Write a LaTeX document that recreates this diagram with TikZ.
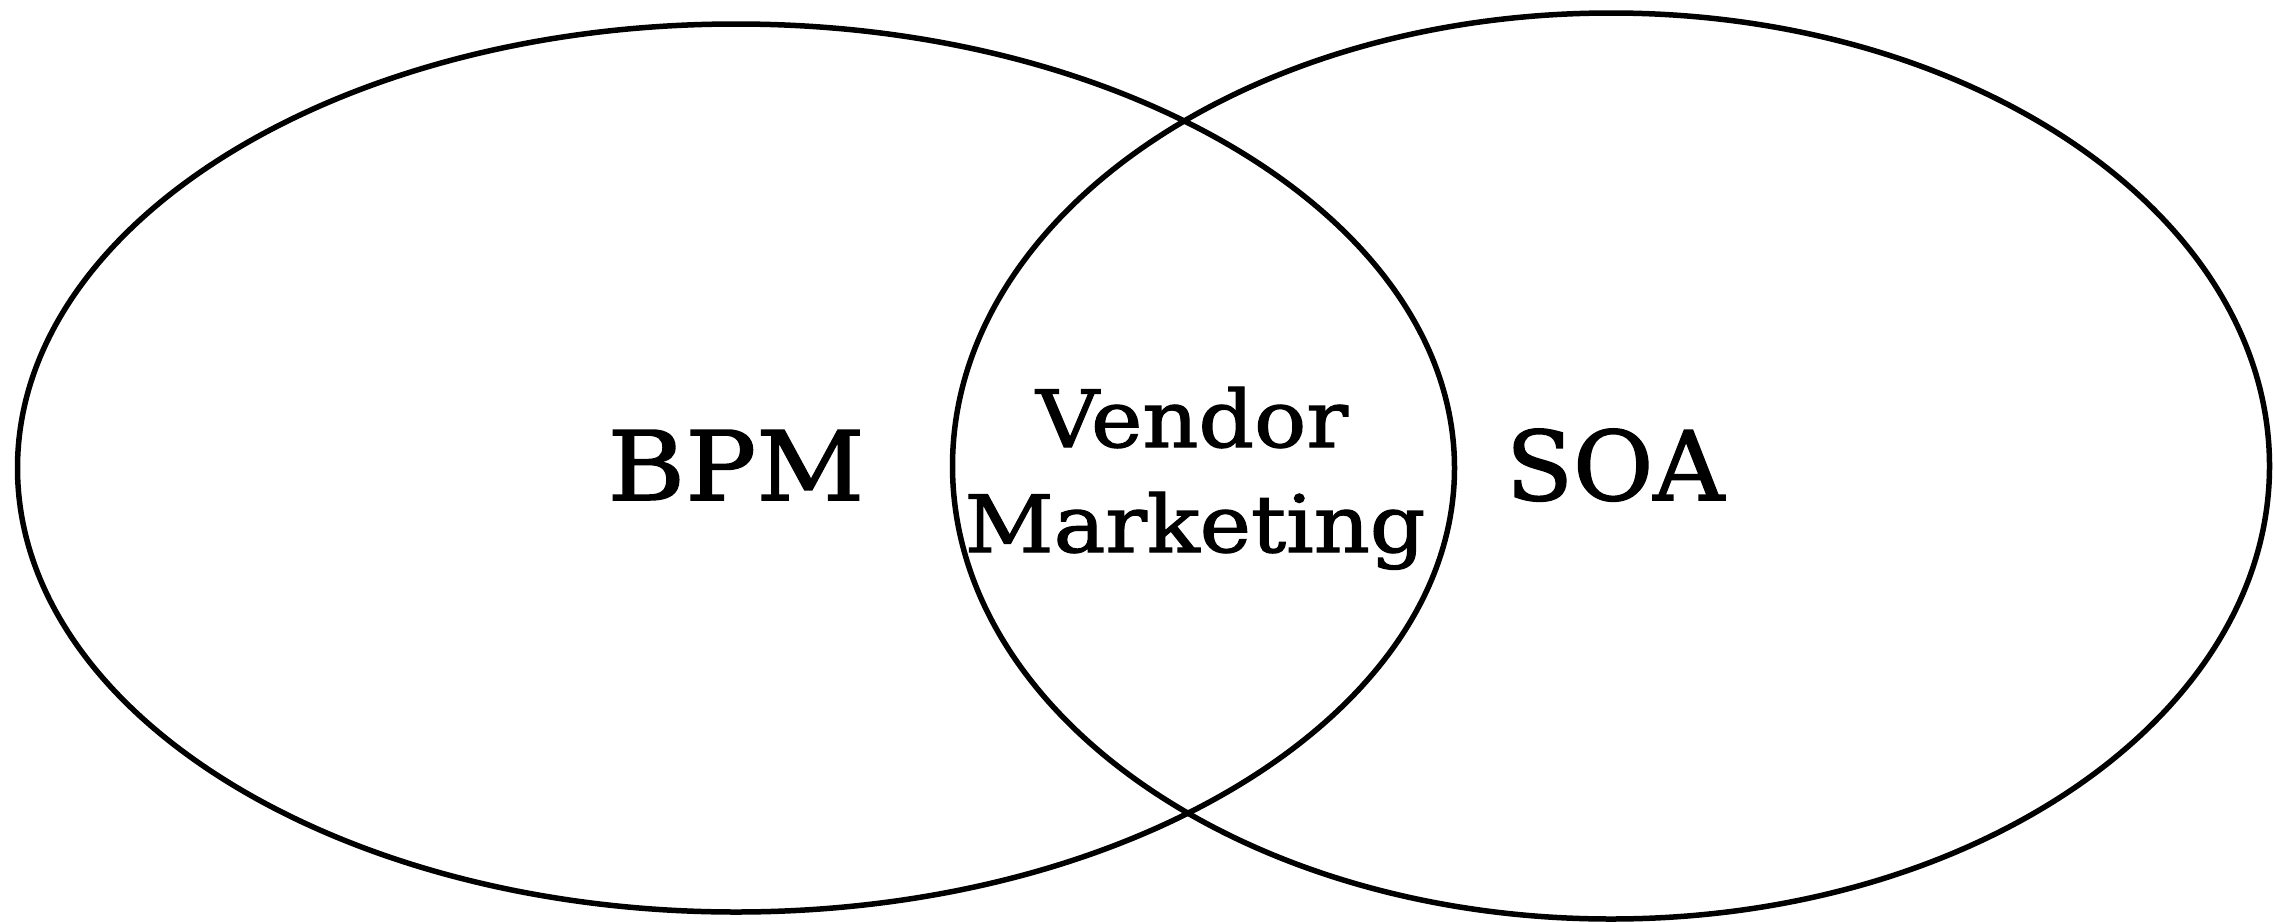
\documentclass[tikz,border=0pt]{standalone}
\usepackage{fontspec}
\setmainfont{DejaVu Serif}
\newfontfamily\labfont[FakeStretch=1.10,FakeBold=1.6]{DejaVu Serif}
\newfontfamily\soafont[FakeStretch=1.02,FakeBold=1.6]{DejaVu Serif}
\usetikzlibrary{shapes.geometric}
\tikzset{
  setshape/.style={draw=black, line width=5.5pt, ellipse, inner sep=0pt, fill=none},
  biglabel/.style={anchor=base, inner sep=0pt, font=\labfont\fontsize{96}{110}\selectfont},
  soalabel/.style={anchor=base, inner sep=0pt, font=\soafont\fontsize{96}{110}\selectfont},
  midlabel/.style={anchor=base, inner sep=0pt, font=\labfont\fontsize{79}{95}\selectfont}
}
\begin{document}
\begin{tikzpicture}[x=1pt,y=-1pt]
\useasboundingbox[fill=white] (0,0) rectangle (2274,921);
\node[setshape, minimum width=1437pt, minimum height=888pt] (bpmset) at (736,468) {};
\node[setshape, minimum width=1317pt, minimum height=906pt] (soaset) at (1611,466) {};
\node[biglabel] (bpm) at (736,500) {BPM};
\node[soalabel] (soa) at (1615,500) {SOA};
\node[midlabel] (vendor) at (1192,447) {Vendor};
\node[midlabel] (marketing) at (1195,552) {Marketing};
\end{tikzpicture}
\end{document}
